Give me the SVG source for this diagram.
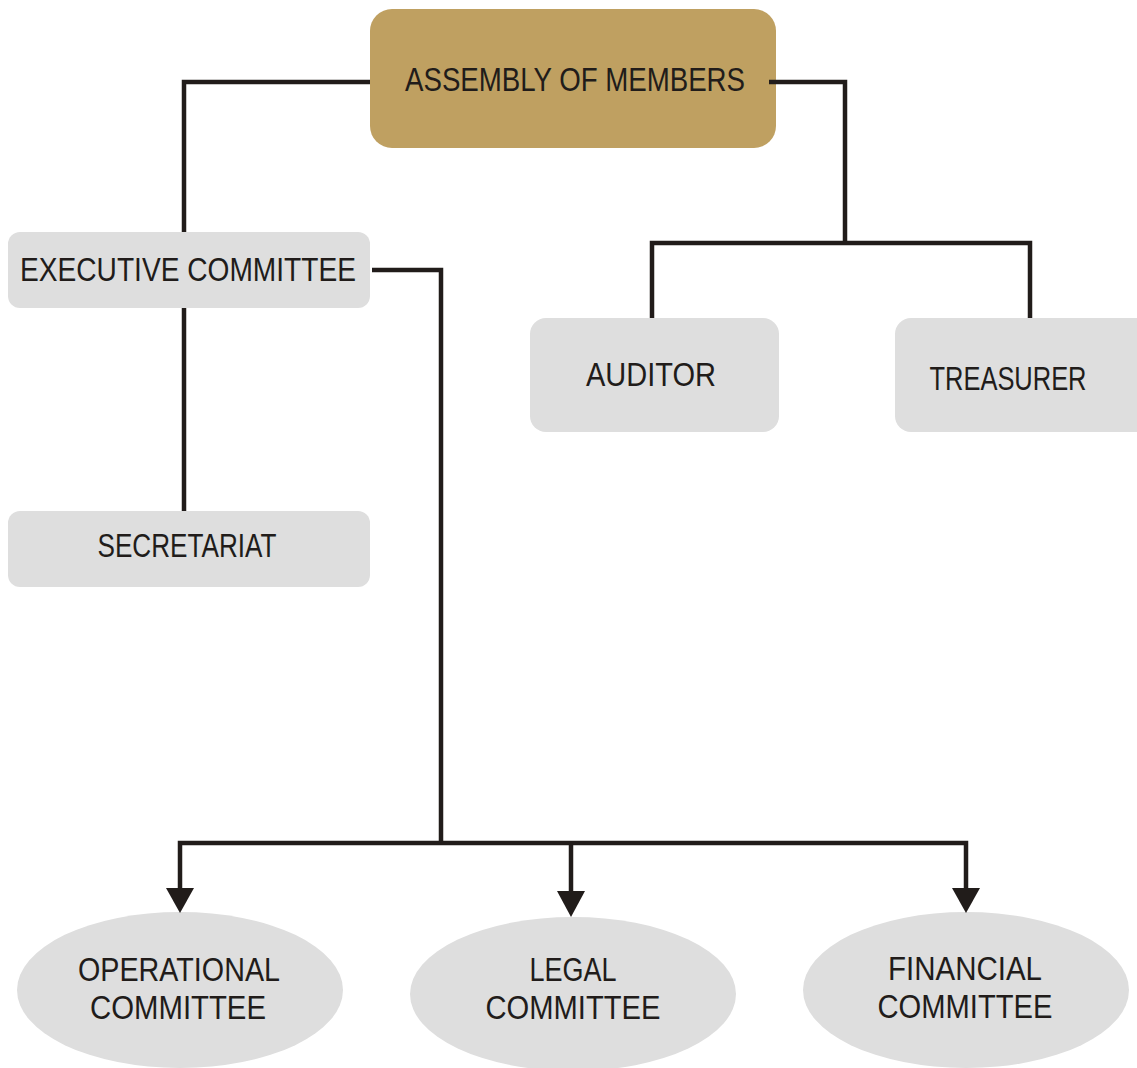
<svg xmlns="http://www.w3.org/2000/svg" width="1137" height="1068" viewBox="0 0 1137 1068">
<defs>
<style>
.box{fill:#DEDEDE}
.t{font-family:"Liberation Sans",Arial,sans-serif;font-size:34px;fill:#211C1A;text-anchor:middle}
.ln{fill:none;stroke:#211C1A;stroke-width:4.5;stroke-linejoin:miter}
.ah{fill:#211C1A}
</style>
</defs>
<rect width="1137" height="1068" fill="#FFFFFF"/>
<g id="assembly">
<rect x="370" y="9" width="406" height="139" rx="22" fill="#BFA061"/>
<text class="t" x="575" y="91" textLength="340" lengthAdjust="spacingAndGlyphs">ASSEMBLY OF MEMBERS</text>
</g>
<g id="executive">
<rect class="box" x="8" y="232" width="362" height="76" rx="12"/>
<text class="t" x="188" y="281" textLength="336" lengthAdjust="spacingAndGlyphs">EXECUTIVE COMMITTEE</text>
</g>
<g id="secretariat">
<rect class="box" x="8" y="511" width="362" height="76" rx="12"/>
<text class="t" x="187" y="557" textLength="179" lengthAdjust="spacingAndGlyphs">SECRETARIAT</text>
</g>
<g id="auditor">
<rect class="box" x="530" y="318" width="249" height="114" rx="16"/>
<text class="t" x="651" y="386" textLength="130" lengthAdjust="spacingAndGlyphs">AUDITOR</text>
</g>
<g id="treasurer">
<rect class="box" x="895" y="318" width="260" height="114" rx="16"/>
<text class="t" x="1008" y="390" textLength="157" lengthAdjust="spacingAndGlyphs">TREASURER</text>
</g>
<g id="operational">
<ellipse class="box" cx="180" cy="990" rx="163" ry="78"/>
<text class="t" x="179" y="981" textLength="202" lengthAdjust="spacingAndGlyphs">OPERATIONAL</text>
<text class="t" x="178" y="1019" textLength="176" lengthAdjust="spacingAndGlyphs">COMMITTEE</text>
</g>
<g id="legal">
<ellipse class="box" cx="573" cy="994" rx="163" ry="77"/>
<text class="t" x="573" y="981" textLength="87" lengthAdjust="spacingAndGlyphs">LEGAL</text>
<text class="t" x="573" y="1019" textLength="175" lengthAdjust="spacingAndGlyphs">COMMITTEE</text>
</g>
<g id="financial">
<ellipse class="box" cx="966" cy="990" rx="163" ry="78"/>
<text class="t" x="965" y="980" textLength="154" lengthAdjust="spacingAndGlyphs">FINANCIAL</text>
<text class="t" x="965" y="1018" textLength="175" lengthAdjust="spacingAndGlyphs">COMMITTEE</text>
</g>
<g id="connectors">
<path class="ln" d="M370 82 H184 V232"/>
<path class="ln" d="M769 82 H845 V243"/>
<path class="ln" d="M652 318 V243 H1030 V318"/>
<path class="ln" d="M184 308 V511"/>
<path class="ln" d="M372 270 H441 V843"/>
<path class="ln" d="M180 890 V843 H966 V890"/>
<path class="ln" d="M571 843 V892"/>
<polygon class="ah" points="166,888 194,888 180,913"/>
<polygon class="ah" points="557,891 585,891 571,917"/>
<polygon class="ah" points="952,888 980,888 966,913"/>
</g>
</svg>
